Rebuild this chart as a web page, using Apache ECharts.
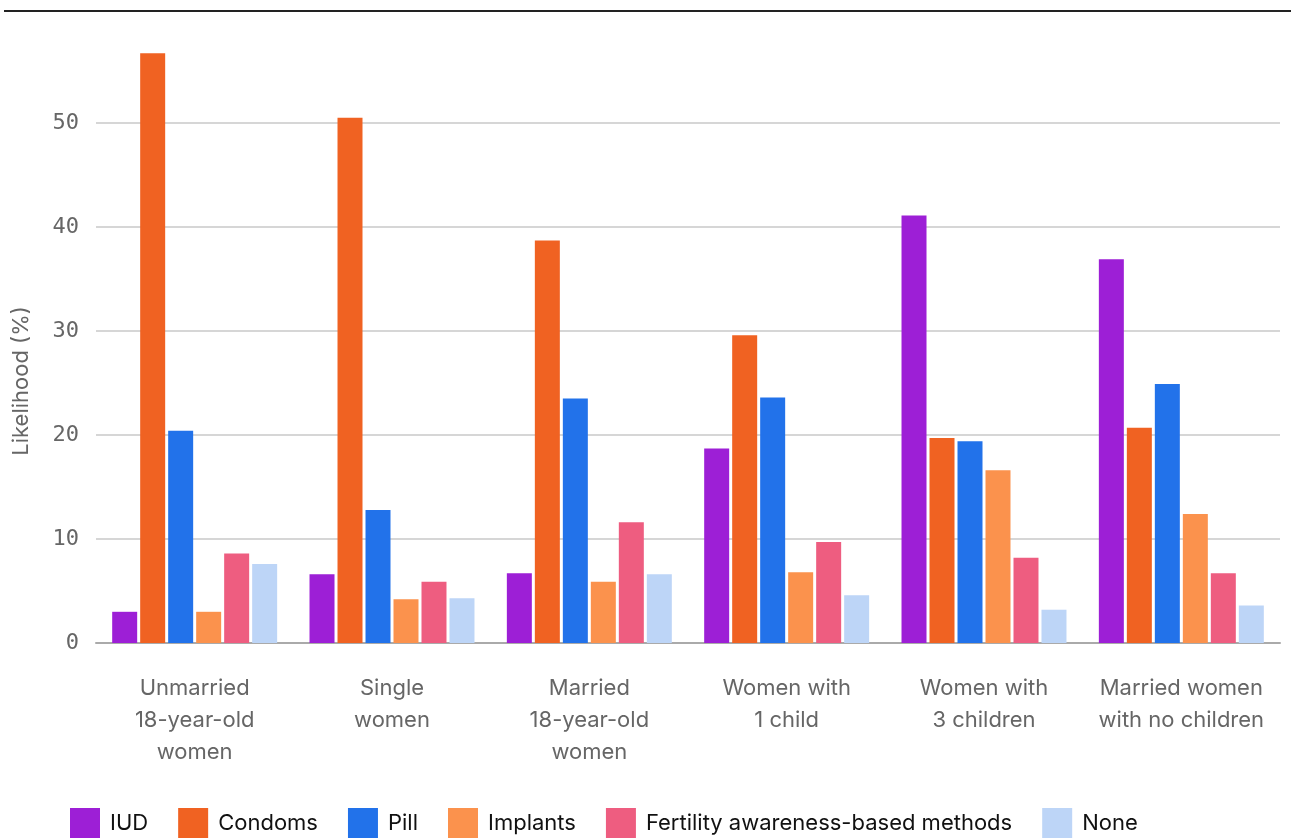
<!DOCTYPE html>
<html>
<head>
<meta charset="utf-8">
<title>Contraceptive likelihood</title>
<script src="https://cdn.jsdelivr.net/npm/echarts@6/dist/echarts.min.js"></script>
<style>
  html, body { margin: 0; padding: 0; background: #fff; }
  #chart { width: 1291px; height: 838px; }
</style>
</head>
<body>
<div id="chart"></div>
<script>
// categories (x axis)
const groups = [
  'Unmarried\n18-year-old\nwomen',
  'Single\nwomen',
  'Married\n18-year-old\nwomen',
  'Women with\n1 child',
  'Women with\n3 children',
  'Married women\nwith no children'
]

// series values (%)
const iud       = [3.0, 6.6, 6.7, 18.7, 41.1, 36.9]
const condoms   = [56.7, 50.5, 38.7, 29.6, 19.7, 20.7]
const pill      = [20.4, 12.8, 23.5, 23.6, 19.4, 24.9]
const implants  = [3.0, 4.2, 5.9, 6.8, 16.6, 12.4]
const fertility = [8.6, 5.9, 11.6, 9.7, 8.2, 6.7]
const none      = [7.6, 4.3, 6.6, 4.6, 3.2, 3.6]

const seriesNames = ['IUD', 'Condoms', 'Pill', 'Implants', 'Fertility awareness-based methods', 'None']
const seriesData = [iud, condoms, pill, implants, fertility, none]
const colors = ['#9d1fd6', '#f06222', '#2272ea', '#fb924d', '#ee5d80', '#bdd5f7']

const chart = echarts.init(document.getElementById('chart'))

chart.setOption({
  animation: false,
  color: colors,
  textStyle: { fontFamily: 'Inter, "Noto Sans", sans-serif' },
  grid: { left: 96, right: 11, top: 19, bottom: 195, containLabel: false },
  graphic: [
    {
      // rule across the top
      type: 'line',
      shape: { x1: 4, y1: 11, x2: 1291, y2: 11 },
      style: { stroke: '#222', lineWidth: 2 }
    },
    {
      // y axis title, sits a bit lower than the plot middle
      type: 'text',
      x: 21, y: 381,
      rotation: Math.PI / 2,
      style: {
        text: 'Likelihood (%)',
        fill: '#666',
        font: '22px Inter, "Noto Sans", sans-serif',
        align: 'center',
        verticalAlign: 'middle'
      }
    }
  ],
  legend: {
    left: 70,
    top: 808,
    padding: 0,
    itemWidth: 30,
    itemHeight: 30,
    itemGap: 30,
    icon: 'rect',
    textStyle: { color: '#111', fontSize: 22, padding: [0, 0, 0, 5] },
    data: seriesNames
  },
  xAxis: {
    type: 'category',
    data: groups,
    axisLine: { lineStyle: { color: '#aaa', width: 2 } },
    axisTick: { show: false },
    axisLabel: { color: '#666', fontSize: 22, lineHeight: 32, margin: 29, interval: 0 }
  },
  yAxis: {
    type: 'value',
    min: 0,
    max: 60,
    interval: 10,
    axisLine: { show: false },
    axisTick: { show: false },
    axisLabel: {
      color: '#666',
      fontSize: 22,
      fontFamily: '"DejaVu Sans Mono", monospace',
      margin: 17,
      showMaxLabel: false
    },
    splitLine: { showMaxLine: false, lineStyle: { color: '#c8c8c8', width: 1.5 } }
  },
  series: seriesNames.map((name, i) => ({
    name: name,
    type: 'bar',
    data: seriesData[i],
    barGap: '12%',
    barCategoryGap: '16.4%'
  }))
})
</script>
</body>
</html>
